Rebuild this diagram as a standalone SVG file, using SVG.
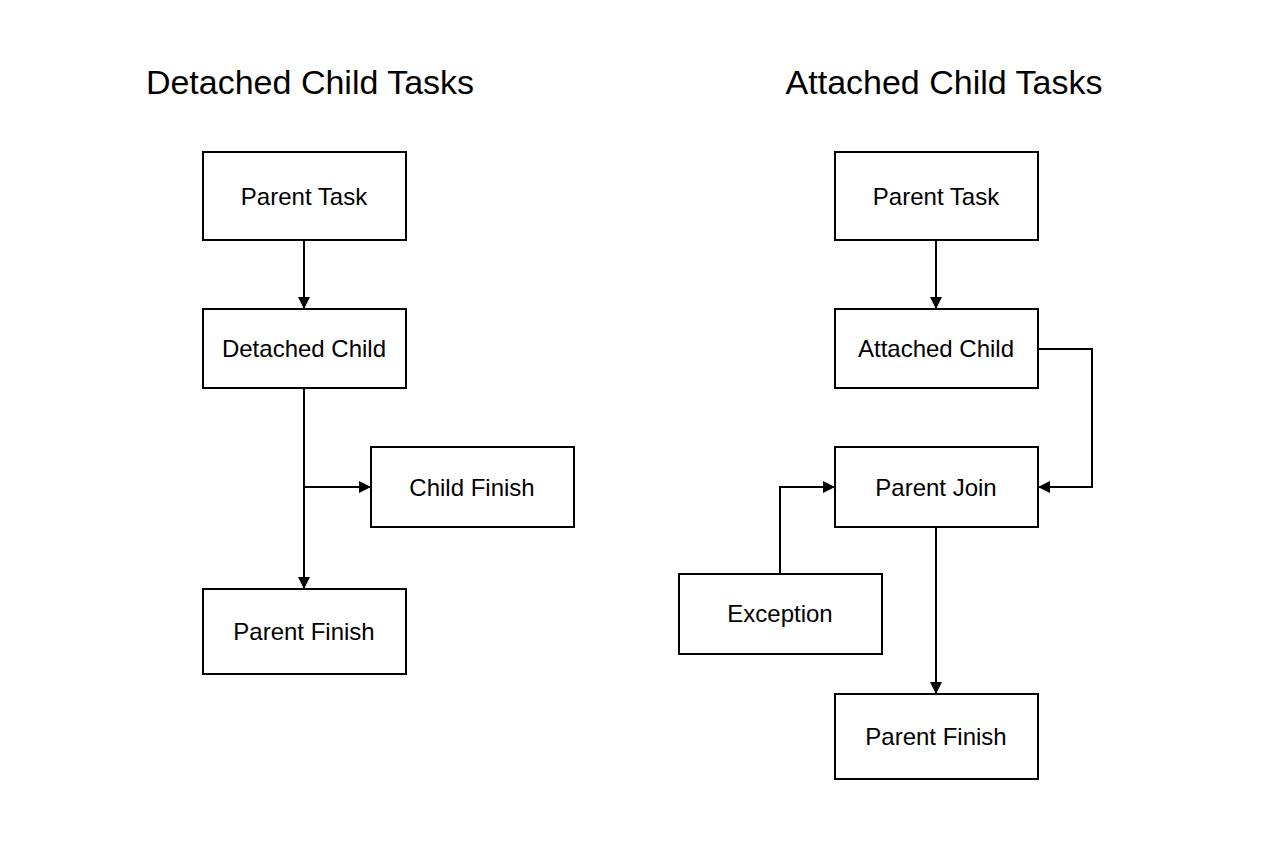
<svg xmlns="http://www.w3.org/2000/svg" width="1264" height="848" viewBox="0 0 1264 848">
<defs>
<marker id="ah" markerWidth="12" markerHeight="12" refX="11" refY="6" orient="auto" markerUnits="userSpaceOnUse"><path d="M0,0 L12,6 L0,12 Z" fill="#000"/></marker>
<style>
.box{fill:#fff;stroke:#000;stroke-width:2}
.t{font-family:"Liberation Sans",Arial,sans-serif;font-size:24px;text-anchor:middle;dominant-baseline:central;fill:#000}
.h{font-family:"Liberation Sans",Arial,sans-serif;font-size:34px;text-anchor:middle;fill:#000}
.c{fill:none;stroke:#000;stroke-width:2;marker-end:url(#ah)}
</style>
</defs>
<rect width="1264" height="848" fill="#fff"/>
<text class="h" x="310" y="94">Detached Child Tasks</text>
<text class="h" x="944" y="94">Attached Child Tasks</text>
<g id="connectors">
<path class="c" d="M304,240 V308"/>
<path class="c" d="M304,388 V588"/>
<path class="c" d="M304,487 H370"/>
<path class="c" d="M936,240 V308"/>
<path class="c" d="M1038,349 H1092 V487 H1039"/>
<path class="c" d="M780,574 V487 H834"/>
<path class="c" d="M936,527 V693"/>
</g>
<g id="l-parent"><rect class="box" x="203" y="152" width="203" height="88"/><text class="t" x="304" y="196">Parent Task</text></g>
<g id="l-detached"><rect class="box" x="203" y="309" width="203" height="79"/><text class="t" x="304" y="348">Detached Child</text></g>
<g id="l-childfinish"><rect class="box" x="371" y="447" width="203" height="80"/><text class="t" x="472" y="487">Child Finish</text></g>
<g id="l-parentfinish"><rect class="box" x="203" y="589" width="203" height="85"/><text class="t" x="304" y="631">Parent Finish</text></g>
<g id="r-parent"><rect class="box" x="835" y="152" width="203" height="88"/><text class="t" x="936" y="196">Parent Task</text></g>
<g id="r-attached"><rect class="box" x="835" y="309" width="203" height="79"/><text class="t" x="936" y="348">Attached Child</text></g>
<g id="r-join"><rect class="box" x="835" y="447" width="203" height="80"/><text class="t" x="936" y="487">Parent Join</text></g>
<g id="r-exception"><rect class="box" x="679" y="574" width="203" height="80"/><text class="t" x="780" y="613">Exception</text></g>
<g id="r-parentfinish"><rect class="box" x="835" y="694" width="203" height="85"/><text class="t" x="936" y="736">Parent Finish</text></g>
</svg>
